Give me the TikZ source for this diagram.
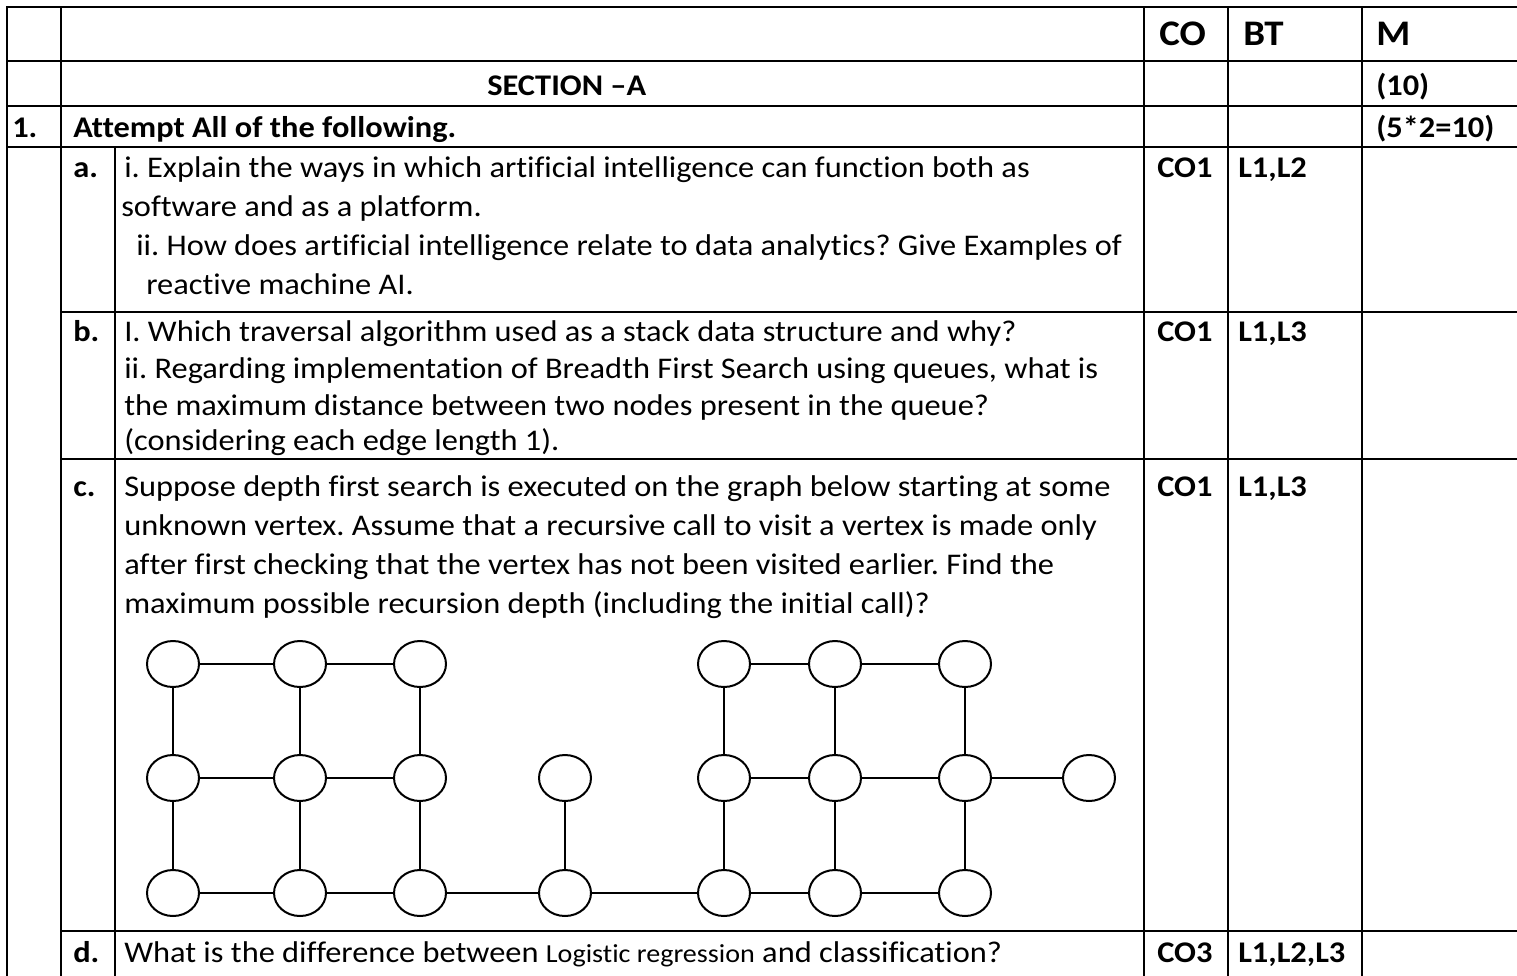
\documentclass[tikz,border=0pt]{standalone}
\usepackage{fontspec}
\setmainfont{Carlito}[FakeStretch=1.08, Ligatures=NoCommon]
\usetikzlibrary{shapes.geometric}
\begin{document}
\frenchspacing
\begin{tikzpicture}[x=0.75pt,y=-0.75pt,
  rule/.style={line width=1.5pt, line cap=rect},
  txt/.style={anchor=base west, inner sep=0pt, font=\fontsize{22.5}{27}\selectfont},
  btxt/.style={anchor=base west, inner sep=0pt, font=\fontsize{22.5}{27}\selectfont\bfseries},
  htxt/.style={anchor=base west, inner sep=0pt, font=\fontsize{27}{32}\selectfont\bfseries},
  vtx/.style={ellipse, draw, line width=1.5pt, minimum width=39pt, minimum height=34.5pt, inner sep=0pt, fill=white},
  gedge/.style={line width=1.35pt}]
\fill[white] (0,0) rectangle (1517,975);
\useasboundingbox (0,0) rectangle (1517,975);

% table rules
\foreach \y in {7,61,106,147} \draw[rule] (7,\y) -- (1517,\y);
\foreach \y in {312,459,931} \draw[rule] (61,\y) -- (1517,\y);
\foreach \x in {7,61,1144,1228,1362} \draw[rule] (\x,7) -- (\x,975);
\draw[rule] (115,147) -- (115,975);

% header
\node[htxt] (hco) at (1159,45) {CO};
\node[htxt] (hbt) at (1243,45) {BT};
\node[htxt] (hm) at (1376,45) {M};

\node[btxt] (sec) at (487,95) {SECTION –A};
\node[btxt] (secm) at (1376,95) {(10)};

\node[btxt] (q1) at (12,137) {1.};
\node[btxt] (att) at (73,137) {Attempt All of the following.};
\node[btxt] (attm) at (1376,137) {(5*2=10)};

% a
\node[btxt] (la) at (73,177) {a.};
\node[txt] (a1) at (124,177) {i. Explain the ways in which artificial intelligence can function both as};
\node[txt] (a2) at (121,216) {software and as a platform.};
\node[txt] (a3) at (136,255) {ii. How does artificial intelligence relate to data analytics? Give Examples of};
\node[txt] (a4) at (146,294) {reactive machine AI.};
\node[btxt] (aco) at (1157,177) {CO1};
\node[btxt] (abt) at (1238,177) {L1,L2};

% b
\node[btxt] (lb) at (73,341) {b.};
\node[txt] (b1) at (124,341) {I. Which traversal algorithm used as a stack data structure and why?};
\node[txt] (b2) at (124,378) {ii. Regarding implementation of Breadth First Search using queues, what is};
\node[txt] (b3) at (124,415) {the maximum distance between two nodes present in the queue?};
\node[txt] (b4) at (124,450) {(considering each edge length 1).};
\node[btxt] (bco) at (1157,341) {CO1};
\node[btxt] (bbt) at (1238,341) {L1,L3};

% c
\node[btxt] (lc) at (73,496) {c.};
\node[txt] (c1) at (124,496) {Suppose depth first search is executed on the graph below starting at some};
\node[txt] (c2) at (124,535) {unknown vertex. Assume that a recursive call to visit a vertex is made only};
\node[txt] (c3) at (124,574) {after first checking that the vertex has not been visited earlier. Find the};
\node[txt] (c4) at (124,613) {maximum possible recursion depth (including the initial call)?};
\node[btxt] (cco) at (1157,496) {CO1};
\node[btxt] (cbt) at (1238,496) {L1,L3};

% d
\node[btxt] (ld) at (73,962) {d.};
\node[txt] (d1) at (124,962) {What is the difference between {\fontsize{19.5}{24}\selectfont Logistic regression} and classification?};
\node[btxt] (dco) at (1157,962) {CO3};
\node[btxt] (dbt) at (1238,962) {L1,L2,L3};

% graph
\foreach \n/\x in {0/173,1/300,2/420,4/724,5/835,6/965}
  \node[vtx] (t\n) at (\x,664) {};
\foreach \n/\x in {0/173,1/300,2/420,3/565,4/724,5/835,6/965,7/1089}
  \node[vtx] (m\n) at (\x,778) {};
\foreach \n/\x in {0/173,1/300,2/420,3/565,4/724,5/835,6/965}
  \node[vtx] (b\n) at (\x,893) {};

\foreach \a/\b in {0/1,1/2,4/5,5/6} \draw[gedge] (t\a) -- (t\b);
\foreach \a/\b in {0/1,1/2,4/5,5/6,6/7} \draw[gedge] (m\a) -- (m\b);
\foreach \a/\b in {0/1,1/2,2/3,3/4,4/5,5/6} \draw[gedge] (b\a) -- (b\b);
\foreach \n in {0,1,2,4,5,6} \draw[gedge] (t\n) -- (m\n);
\foreach \n in {0,1,2,3,4,5,6} \draw[gedge] (m\n) -- (b\n);
\end{tikzpicture}
\end{document}
